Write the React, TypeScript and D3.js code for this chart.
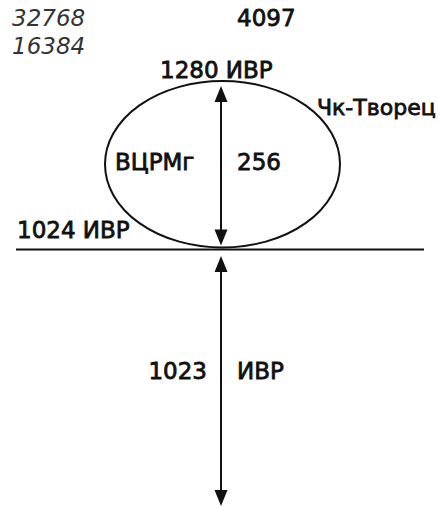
import * as d3 from 'd3';

// labels
const cornerNumbers = ['32768', '16384'];
const topNumber = '4097';
const levelLabels = ['1280 ИВР', '1024 ИВР'];
const levelValues = [1280, 1024];
const ellipseLabels = ['ВЦРМг', '256'];
const outerLabel = 'Чк-Творец';
const lowerSpan = [0, 1023];
const lowerLabels = ['1023', 'ИВР'];

const W = 438;
const H = 508;
const ink = '#111';
const font = '"DejaVu Sans", Verdana, sans-serif';

export default function App() {
  // upper part: levels 1024..1280 map onto the ellipse height
  const yLevel = d3.scaleLinear().domain([1024, 1280]).range([247.5, 81]);
  // lower part: span below the ground line
  const yLower = d3.scaleLinear().domain(lowerSpan).range([256, 506]);
  const cx = 222.5;
  const rx = 117.5;
  const ax = 221; // arrow axis

  const top = yLevel(levelValues[0]);
  const bottom = yLevel(levelValues[1]);
  const cy = (top + bottom) / 2;
  const ry = (bottom - top) / 2;
  const groundY = 249.5;

  const arrowHead = (x: number, y: number, dir: 1 | -1) => {
    const p = d3.path();
    p.moveTo(x, y);
    p.lineTo(x - 6.5, y + dir * 16);
    p.lineTo(x + 6.5, y + dir * 16);
    p.closePath();
    return p.toString();
  };

  const bold = { fill: ink, stroke: ink, strokeWidth: 0.8, fontSize: 23, fontFamily: font };

  return (
    <svg width={W} height={H} style={{ position: 'absolute', left: 0, top: 0, background: '#fff' }}>
      {cornerNumbers.map((t, i) => (
        <text key={t} x={12} y={25.5 + i * 28} fontSize={23} fontStyle="italic" fontFamily={font} fill="#333">
          {t}
        </text>
      ))}
      <text x={237} y={25.5} {...bold}>{topNumber}</text>

      <ellipse cx={cx} cy={cy} rx={rx} ry={ry} fill="none" stroke={ink} strokeWidth={2} />
      <line x1={16} x2={424} y1={groundY} y2={groundY} stroke={ink} strokeWidth={2} />

      {/* arrow across the ellipse */}
      <line x1={ax} x2={ax} y1={top + 15} y2={bottom - 15} stroke={ink} strokeWidth={2} />
      <path d={arrowHead(ax, top + 5, 1)} fill={ink} />
      <path d={arrowHead(ax, bottom - 2, -1)} fill={ink} />

      {/* arrow below the ground line */}
      <line x1={ax} x2={ax} y1={yLower(0) + 15} y2={yLower(1023) - 15} stroke={ink} strokeWidth={2} />
      <path d={arrowHead(ax, yLower(0), 1)} fill={ink} />
      <path d={arrowHead(ax, yLower(1023), -1)} fill={ink} />

      <text x={160} y={77.5} {...bold}>{levelLabels[0]}</text>
      <text x={17} y={237.5} {...bold}>{levelLabels[1]}</text>
      <text x={317} y={115} {...bold} fontSize={22}>{outerLabel}</text>
      <text x={115} y={170} {...bold}>{ellipseLabels[0]}</text>
      <text x={237} y={170} {...bold}>{ellipseLabels[1]}</text>

      <text x={207} y={379} textAnchor="end" {...bold}>{lowerLabels[0]}</text>
      <text x={237} y={379} {...bold}>{lowerLabels[1]}</text>
    </svg>
  );
}
